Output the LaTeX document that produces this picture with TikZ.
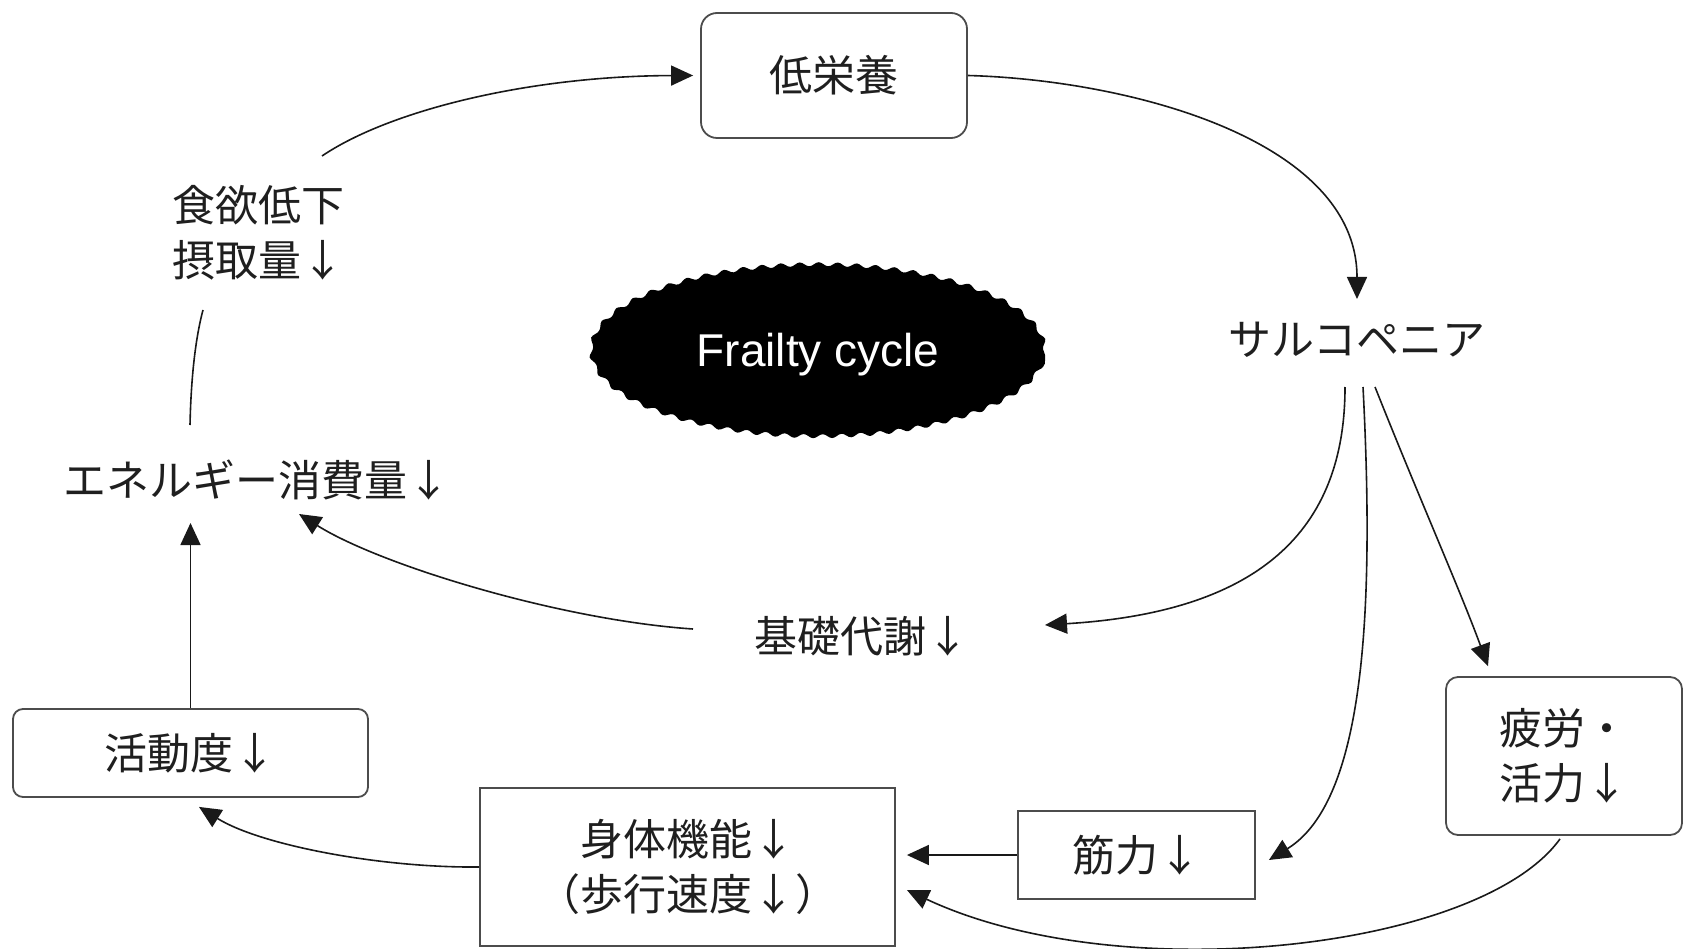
\documentclass[tikz,border=0pt]{standalone}
\usepackage{fontspec}
\setmainfont{Liberation Sans}
\newfontfamily\jp{Noto Sans CJK JP}
\usetikzlibrary{arrows.meta,calc,shapes.geometric,decorations.pathmorphing}
\begin{document}
\begin{tikzpicture}[x=1pt,y=-1pt,
  jtext/.style={font=\jp\fontsize{43}{55}\selectfont, text=black!88},
  lbl/.style={jtext, inner sep=0pt, align=left},
  box/.style={jtext, draw=black!70, line width=1.8pt, inner sep=0pt, align=center},
  rbox/.style={box, rounded corners=16pt},
  arr/.style={-{Triangle[length=22pt,width=20pt]}, line width=1.6pt, draw=black!90},
  link/.style={line width=1.6pt, draw=black!90}
]
\useasboundingbox (0,0) rectangle (1685,949);

% nodes
\node[rbox, minimum width=266pt, minimum height=125pt] (low) at (834,75.5) {低栄養};
\node[lbl] (sarco) at (1357,340) {サルコペニア};
\node[lbl] (appetite) at (258,233) {食欲低下\\摂取量↓};
\node[lbl] (energy) at (257,480) {エネルギー消費量↓};
\node[ellipse, fill=black, minimum width=454pt, minimum height=172pt, inner sep=0pt,
      decorate, decoration={snake, segment length=19pt, amplitude=2pt},
      text=white, font=\fontsize{46}{50}\selectfont] (frailty) at (818,355) {Frailty cycle};
\node[lbl] (bmr) at (862,636) {基礎代謝↓};
\node[rbox, rounded corners=10pt, minimum width=355pt, minimum height=88pt] (activity) at (190.5,753) {活動度↓};
\node[box, minimum width=415pt, minimum height=158pt] (body) at (687.5,867) {身体機能↓\\（歩行速度↓）};
\node[box, minimum width=237pt, minimum height=88pt] (muscle) at (1136.5,855) {筋力↓};
\node[rbox, rounded corners=12pt, minimum width=236pt, minimum height=158pt, align=left] (fatigue) at (1564,756) {疲労・\\活力↓};

% connectors
\draw[arr] ($(appetite)+(64,-77)$) .. controls (390,110) and (530,76) .. ($(low.west)+(-7,0)$);
\draw[arr] (low.east) .. controls (1130,80) and (1357,140) .. ($(sarco)+(0,-41)$);
\draw[arr] ($(sarco)+(-12,47)$) .. controls (1345,530) and (1260,612) .. ($(bmr)+(183,-11)$);
\draw[arr] ($(sarco)+(6,47)$) .. controls (1374,600) and (1367,800) .. ($(muscle.east)+(13,5)$);
\draw[arr] ($(sarco)+(18,47)$) .. controls (1420,500) and (1460,590) .. ($(fatigue.north)+(-76,-10)$);
\draw[arr] ($(bmr)+(-169,-7)$) .. controls (560,620) and (380,565) .. ($(energy)+(42,34)$);
\draw[arr] (activity.north) -- ($(energy)+(-66.5,43)$);
\draw[arr] (body.west) .. controls (380,868) and (260,845) .. ($(activity.south)+(8.5,9)$);
\draw[arr] (muscle.west) -- ($(body.east |- muscle.west)+(11,0)$);
\draw[arr] ($(fatigue.south)+(-4,3)$) .. controls (1480,950) and (1120,990) .. ($(body.east)+(11,23)$);
\draw[link] ($(energy)+(-67,-55)$) .. controls (191,380) and (195,340) .. ($(appetite)+(-55,77)$);
\end{tikzpicture}
\end{document}
